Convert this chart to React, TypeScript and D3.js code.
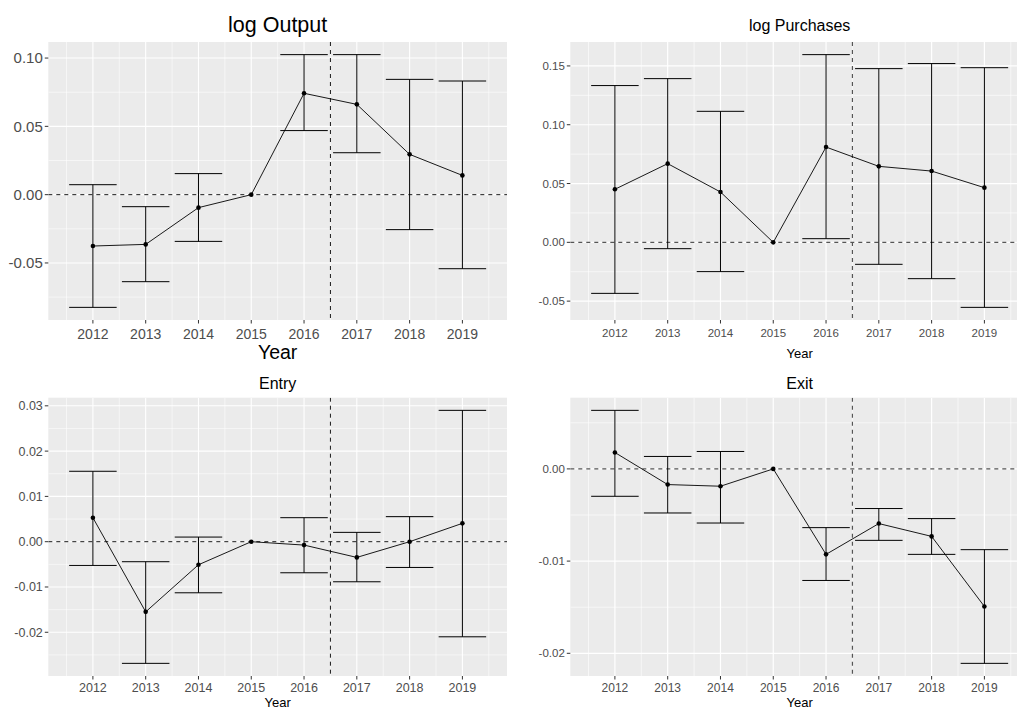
import React from 'react';
import * as d3 from 'd3';

const years = [2012, 2013, 2014, 2015, 2016, 2017, 2018, 2019];

const outputEst = [-0.0376, -0.0364, -0.0095, 0, 0.0742, 0.0661, 0.0295, 0.0141];
const outputLo = [-0.0825, -0.0637, -0.0342, null, 0.0469, 0.0307, -0.0256, -0.0542];
const outputHi = [0.0073, -0.0088, 0.0154, null, 0.1025, 0.1025, 0.0844, 0.0832];
const outputTicks = [-0.05, 0, 0.05, 0.1];

const purchEst = [0.0451, 0.0669, 0.0428, 0, 0.081, 0.0646, 0.0606, 0.0465];
const purchLo = [-0.0434, -0.0054, -0.0249, null, 0.0031, -0.0187, -0.0309, -0.0553];
const purchHi = [0.1333, 0.1392, 0.1114, null, 0.1596, 0.1477, 0.152, 0.1485];
const purchTicks = [-0.05, 0, 0.05, 0.1, 0.15];

const entryEst = [0.0053, -0.01549, -0.00509, 0, -0.00075, -0.00347, 0.0, 0.00405];
const entryLo = [-0.00524, -0.02686, -0.01128, null, -0.00686, -0.00885, -0.00569, -0.021];
const entryHi = [0.01555, -0.00442, 0.00102, null, 0.0053, 0.00206, 0.00553, 0.029];
const entryTicks = [-0.02, -0.01, 0, 0.01, 0.02, 0.03];

const exitEst = [0.00178, -0.0017, -0.00188, 0, -0.00927, -0.00593, -0.00732, -0.01492];
const exitLo = [-0.00297, -0.00478, -0.00587, null, -0.0121, -0.00775, -0.00927, -0.02109];
const exitHi = [0.00635, 0.00135, 0.00189, null, -0.00637, -0.0043, -0.00539, -0.00876];
const exitTicks = [-0.02, -0.01, 0];

const treatBreak = 2016.5;
const capWidth = 0.9;

type Layout = {
  x0: number; y0: number; w: number; h: number;
  titleSize: number; titleY: number;
  yTickSize: number; xTickSize: number; xTickY: number;
  axisSize: number; axisY: number;
  dashColor: string; dashWidth: number; gridW: number;
};

function Panel(props: {
  title: string; est: number[]; lo: (number | null)[]; hi: (number | null)[];
  ticks: number[]; L: Layout;
}) {
  const { title, est, lo, hi, ticks, L } = props;
  const xMin = d3.min(years)! - capWidth / 2;
  const xMax = d3.max(years)! + capWidth / 2;
  const xs = (xMax - xMin) * 0.05;
  const x = d3.scaleLinear().domain([xMin - xs, xMax + xs]).range([L.x0, L.x0 + L.w]);
  const allV = [...est, ...(lo.filter((v) => v !== null) as number[]), ...(hi.filter((v) => v !== null) as number[])];
  const yMin = d3.min(allV)!;
  const yMax = d3.max(allV)!;
  const ys = (yMax - yMin) * 0.05;
  const yd: [number, number] = [yMin - ys, yMax + ys];
  const y = d3.scaleLinear().domain(yd).range([L.y0 + L.h, L.y0]);
  const step = ticks[1] - ticks[0];
  const minorY: number[] = [];
  for (let v = ticks[0] - step / 2; v <= yd[1]; v += step) {
    if (v >= yd[0]) minorY.push(v);
  }
  const minorX: number[] = [];
  for (let v = years[0] - 0.5; v <= x.domain()[1]; v += 1) {
    if (v >= x.domain()[0]) minorX.push(v);
  }
  const line = d3.line<number>().x((_, i) => x(years[i])).y((d) => y(d));
  const cx = L.x0 + L.w / 2;
  const fmt = (v: number) => (Math.abs(v) < 1e-12 ? '0.00' : v.toFixed(2));
  return (
    <g>
      <defs>
        <clipPath id={'clip-' + title.replace(/\s/g, '')}>
          <rect x={L.x0} y={L.y0} width={L.w} height={L.h} />
        </clipPath>
      </defs>
      <rect x={L.x0} y={L.y0} width={L.w} height={L.h} fill="#EBEBEB" />
      <g clipPath={`url(#clip-${title.replace(/\s/g, '')})`}>
        {minorY.map((v, i) => (
          <line key={'my' + i} x1={L.x0} x2={L.x0 + L.w} y1={y(v)} y2={y(v)} stroke="#fff" strokeWidth={L.gridW * 0.5} />
        ))}
        {minorX.map((v, i) => (
          <line key={'mx' + i} x1={x(v)} x2={x(v)} y1={L.y0} y2={L.y0 + L.h} stroke="#fff" strokeWidth={L.gridW * 0.5} />
        ))}
        {ticks.map((v, i) => (
          <line key={'gy' + i} x1={L.x0} x2={L.x0 + L.w} y1={y(v)} y2={y(v)} stroke="#fff" strokeWidth={L.gridW} />
        ))}
        {years.map((v, i) => (
          <line key={'gx' + i} x1={x(v)} x2={x(v)} y1={L.y0} y2={L.y0 + L.h} stroke="#fff" strokeWidth={L.gridW} />
        ))}
        <line x1={L.x0} x2={L.x0 + L.w} y1={y(0)} y2={y(0)} stroke={L.dashColor} strokeWidth={L.dashWidth} strokeDasharray="4,4" />
        <line x1={x(treatBreak)} x2={x(treatBreak)} y1={L.y0} y2={L.y0 + L.h} stroke={L.dashColor} strokeWidth={L.dashWidth} strokeDasharray="4,4" />
        {years.map((yr, i) => {
          const l = lo[i];
          const h = hi[i];
          if (l === null || h === null) return null;
          return (
            <g key={'eb' + i} stroke="#000" strokeWidth={1}>
              <line x1={x(yr)} x2={x(yr)} y1={y(l)} y2={y(h)} />
              <line x1={x(yr - capWidth / 2)} x2={x(yr + capWidth / 2)} y1={y(l)} y2={y(l)} />
              <line x1={x(yr - capWidth / 2)} x2={x(yr + capWidth / 2)} y1={y(h)} y2={y(h)} />
            </g>
          );
        })}
        <path d={line(est) || ''} fill="none" stroke="#000" strokeWidth={0.9} />
        {est.map((v, i) => (
          <circle key={'pt' + i} cx={x(years[i])} cy={y(v)} r={2.3} fill="#000" />
        ))}
      </g>
      {ticks.map((v, i) => (
        <g key={'ty' + i}>
          <line x1={L.x0 - 3.5} x2={L.x0} y1={y(v)} y2={y(v)} stroke="#333" strokeWidth={1} />
          <text x={L.x0 - 5.5} y={y(v)} dy="0.36em" textAnchor="end" fontSize={L.yTickSize} fill="#4D4D4D">{fmt(v)}</text>
        </g>
      ))}
      {years.map((v, i) => (
        <g key={'tx' + i}>
          <line x1={x(v)} x2={x(v)} y1={L.y0 + L.h} y2={L.y0 + L.h + 3.5} stroke="#333" strokeWidth={1} />
          <text x={x(v)} y={L.xTickY} textAnchor="middle" fontSize={L.xTickSize} fill="#4D4D4D">{v}</text>
        </g>
      ))}
      <text x={cx} y={L.axisY} textAnchor="middle" fontSize={L.axisSize} fill="#000">Year</text>
      <text x={cx} y={L.titleY} textAnchor="middle" fontSize={L.titleSize} fill="#000">{title}</text>
    </g>
  );
}

const W = 458.7;

const L1: Layout = { x0: 48.3, y0: 42, w: W, h: 278, titleSize: 21.5, titleY: 32, yTickSize: 15, xTickSize: 14, xTickY: 338.5, axisSize: 19.5, axisY: 359, dashColor: '#000', dashWidth: 0.9, gridW: 1.1 };
const L2: Layout = { x0: 570.3, y0: 42, w: W, h: 278, titleSize: 16, titleY: 31, yTickSize: 11.5, xTickSize: 11.5, xTickY: 337.3, axisSize: 13, axisY: 358.3, dashColor: '#555', dashWidth: 1.2, gridW: 1.2 };
const L3: Layout = { x0: 48.3, y0: 397.7, w: W, h: 278.3, titleSize: 16, titleY: 389.3, yTickSize: 12.5, xTickSize: 12.5, xTickY: 691.5, axisSize: 13, axisY: 707.3, dashColor: '#000', dashWidth: 0.9, gridW: 1.1 };
const L4: Layout = { x0: 570.3, y0: 397.7, w: W, h: 278.3, titleSize: 16, titleY: 389.3, yTickSize: 11.5, xTickSize: 12, xTickY: 691.5, axisSize: 13, axisY: 707, dashColor: '#555', dashWidth: 1.2, gridW: 1.2 };

export default function App() {
  return (
    <div style={{ position: 'absolute', left: 0, top: 0, width: 1017, height: 713, overflow: 'hidden', background: '#fff' }}>
      <svg width={1017} height={713} style={{ display: 'block', fontFamily: '"Liberation Sans", Arial, sans-serif' }}>
        <rect x={0} y={0} width={1017} height={713} fill="#fff" />
        <Panel title="log Output" est={outputEst} lo={outputLo} hi={outputHi} ticks={outputTicks} L={L1} />
        <Panel title="log Purchases" est={purchEst} lo={purchLo} hi={purchHi} ticks={purchTicks} L={L2} />
        <Panel title="Entry" est={entryEst} lo={entryLo} hi={entryHi} ticks={entryTicks} L={L3} />
        <Panel title="Exit" est={exitEst} lo={exitLo} hi={exitHi} ticks={exitTicks} L={L4} />
      </svg>
    </div>
  );
}
